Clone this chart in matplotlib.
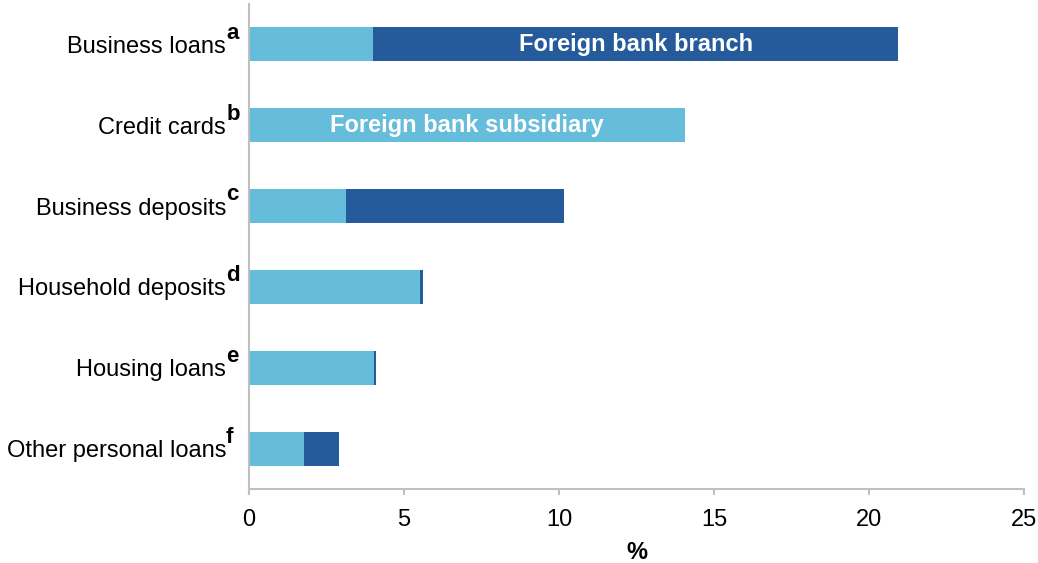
import matplotlib.pyplot as plt

plt.rcParams['font.family'] = ['Liberation Sans', 'DejaVu Sans']

# Market share, %, by bank type
categories = ["Business loans", "Credit cards", "Business deposits",
              "Household deposits", "Housing loans", "Other personal loans"]
notes = ["a", "b", "c", "d", "e", "f"]
subsidiary = [4.0, 14.05, 3.12, 5.52, 4.02, 1.78]
branch = [16.95, 0.0, 7.05, 0.08, 0.08, 1.12]

light = "#65bcdb"
dark = "#265b9b"
grey = "#bfbfbf"

fig = plt.figure(figsize=(10.38, 5.63), dpi=100)
ax = fig.add_axes([0.2399, 0.1314, 0.7466, 0.8615])

y = list(range(len(categories)))
ax.barh(y, subsidiary, height=0.42, color=light)
ax.barh(y, branch, left=subsidiary, height=0.42, color=dark)

ax.set_ylim(len(categories) - 0.5, -0.5)
ax.set_xlim(0, 25)
ax.set_xticks([0, 5, 10, 15, 20, 25])
ax.set_yticks(y)
ax.set_yticklabels(categories, fontsize=17)
ax.tick_params(axis="y", length=0, pad=16.5)
ax.tick_params(axis="x", length=4.5, width=1.5, color=grey, labelsize=17, pad=10)
ax.set_xlabel("%", fontsize=17, fontweight="bold", labelpad=7)

for side in ["top", "right"]:
    ax.spines[side].set_visible(False)
for side in ["left", "bottom"]:
    ax.spines[side].set_color(grey)
    ax.spines[side].set_linewidth(1.5)

# footnote letters next to the category labels
for yi, n in zip(y, notes):
    ax.annotate(n, xy=(0, yi), xycoords=("axes fraction", "data"),
                xytext=(-16.5, 0.5), textcoords="offset points",
                ha="left", va="bottom", fontsize=16, fontweight="bold")

# series names written inside the bars
ax.text(subsidiary[0] + branch[0] / 2, 0, "Foreign bank branch", color="white",
        fontsize=17, fontweight="bold", ha="center", va="center")
ax.text(subsidiary[1] / 2, 1, "Foreign bank subsidiary", color="white",
        fontsize=17, fontweight="bold", ha="center", va="center")

plt.savefig("out.png", dpi=100)
